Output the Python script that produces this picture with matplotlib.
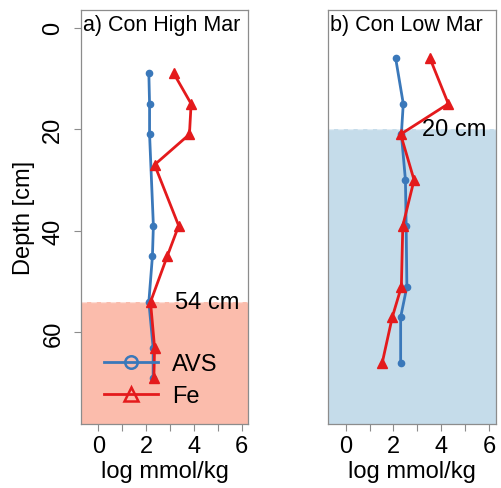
import matplotlib
matplotlib.use("Agg")
import matplotlib.pyplot as plt
from matplotlib.lines import Line2D

plt.rcParams['font.family'] = ['Liberation Sans', 'DejaVu Sans']

# Panel a) Con High Mar
depth_a_fe = [9, 15, 21, 27, 39, 45, 54, 63, 69]
fe_a = [3.16, 3.89, 3.82, 2.36, 3.37, 2.89, 2.19, 2.36, 2.33]
depth_a_avs = [9, 15, 21, 39, 45, 54, 63, 69]
avs_a = [2.12, 2.15, 2.15, 2.31, 2.27, 2.12, 2.3, 2.3]
boundary_a = 54
label_a = "a) Con High Mar"

# Panel b) Con Low Mar
depth_b = [6, 15, 21, 30, 39, 51, 57, 66]
avs_b = [2.09, 2.41, 2.33, 2.50, 2.53, 2.56, 2.30, 2.30]
fe_b = [3.52, 4.29, 2.30, 2.86, 2.39, 2.33, 1.95, 1.53]
boundary_b = 20
label_b = "b) Con Low Mar"

blue = "#3A78BA"
red = "#E41A1C"
fill_a = "#FBBCAC"
fill_b = "#C5DCEA"
frame = "#8c8c8c"
FS = 17

fig = plt.figure(figsize=(5.02, 4.89), dpi=100)
ax_a = fig.add_axes([0.1614, 0.131, 0.333, 0.847])
ax_b = fig.add_axes([0.654, 0.131, 0.334, 0.847])

YLIM = (78, -3.5)
XLIM = (-0.72, 6.28)


def style(ax, show_y):
    ax.set_ylim(*YLIM)
    ax.set_xlim(*XLIM)
    ax.set_xticks(range(0, 7))
    ax.set_xticklabels(["0", "", "2", "", "4", "", "6"], fontsize=FS)
    ax.set_yticks([0, 20, 40, 60])
    ax.tick_params(direction="out", length=5, color=frame, pad=3)
    if show_y:
        ax.set_yticklabels(["0", "20", "40", "60"], fontsize=FS, rotation=90, va="center")
        ax.tick_params(axis="y", pad=7)
        ax.set_ylabel("Depth [cm]", fontsize=FS, labelpad=5)
    else:
        ax.tick_params(axis="y", left=False, labelleft=False)
    for s in ax.spines.values():
        s.set_color(frame)
        s.set_linewidth(0.9)
    ax.set_xlabel("log mmol/kg", fontsize=FS, labelpad=2)


def panel(ax, boundary, fillc, dep_avs, avs, dep_fe, fe, label, show_y):
    ax.axhspan(boundary, YLIM[0], color=fillc, lw=0, zorder=0)
    ax.axhline(boundary, color="white", lw=1.0, ls=(0, (4, 3)), alpha=0.5, zorder=1)
    ax.plot(avs, dep_avs, color=blue, lw=2.0, marker="o", ms=4.5, zorder=3)
    ax.plot(fe, dep_fe, color=red, lw=2.0, marker="^", ms=6.5, zorder=4)
    ax.text(0.012, 0.99, label, transform=ax.transAxes, ha="left", va="top", fontsize=15.5)
    ax.text(5.9, boundary, f"{boundary} cm", ha="right", va="center", fontsize=FS)
    style(ax, show_y)


panel(ax_a, boundary_a, fill_a, depth_a_avs, avs_a, depth_a_fe, fe_a, label_a, True)
panel(ax_b, boundary_b, fill_b, depth_b, avs_b, depth_b, fe_b, label_b, False)

handles = [
    Line2D([], [], color=blue, lw=2.0, marker="o", ms=9, mfc="none", mew=1.8),
    Line2D([], [], color=red, lw=2.0, marker="^", ms=10, mfc="none", mew=1.8),
]
ax_a.legend(handles, ["AVS", "Fe"], loc="lower left", bbox_to_anchor=(0.01, -0.01),
            frameon=False, fontsize=FS, handlelength=2.3, handletextpad=0.6,
            labelspacing=0.42)

fig.savefig("out.png", dpi=100)
